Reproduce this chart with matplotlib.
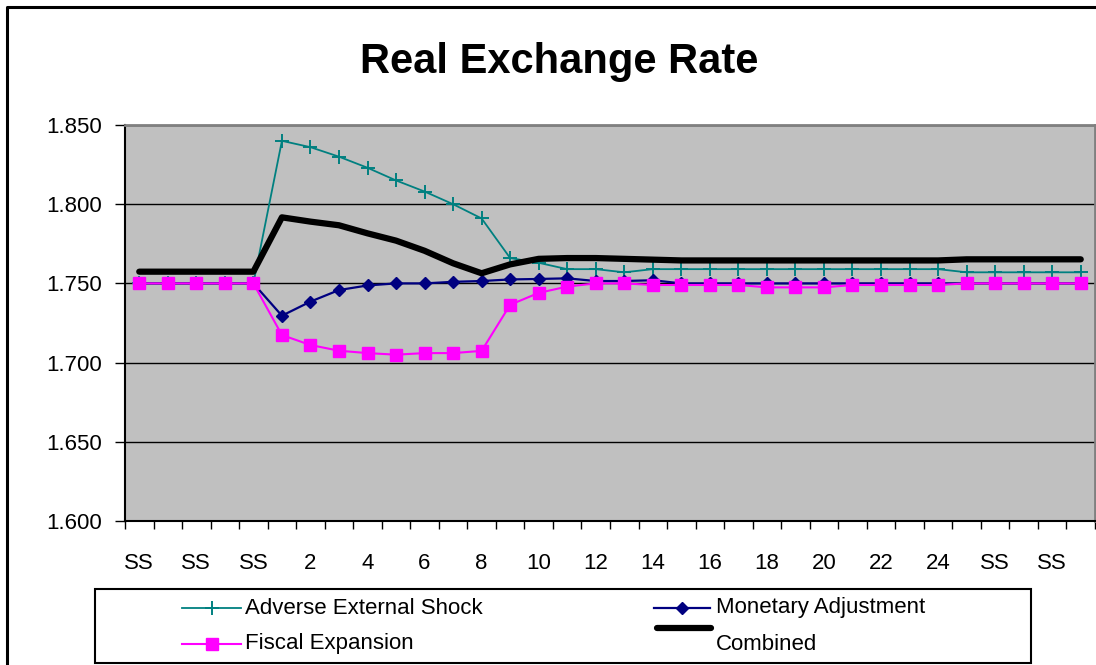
import matplotlib
matplotlib.use("Agg")
import matplotlib.pyplot as plt
from matplotlib.lines import Line2D
from matplotlib.patches import Rectangle
from matplotlib.ticker import FixedLocator, FuncFormatter

plt.rcParams['font.family'] = ['Liberation Sans', 'DejaVu Sans']

categories = ["SS"] * 5 + [str(i) for i in range(1, 25)] + ["SS"] * 5

adverse = [1.750, 1.750, 1.750, 1.750, 1.750,
           1.840, 1.836, 1.830, 1.823, 1.815, 1.808, 1.800, 1.791,
           1.766, 1.763, 1.759, 1.759, 1.757, 1.759, 1.759, 1.759, 1.759,
           1.759, 1.759, 1.759, 1.759, 1.759, 1.759, 1.759,
           1.757, 1.757, 1.757, 1.757, 1.757]

monetary = [1.750, 1.750, 1.750, 1.750, 1.750,
            1.7296, 1.7385, 1.7458, 1.7487, 1.750, 1.750, 1.751, 1.7515,
            1.7525, 1.7528, 1.7532, 1.7515, 1.7515, 1.752, 1.750, 1.750,
            1.750, 1.750, 1.750, 1.750, 1.750, 1.750, 1.750, 1.750,
            1.750, 1.750, 1.750, 1.750, 1.750]

fiscal = [1.750, 1.750, 1.750, 1.750, 1.750,
          1.7174, 1.7111, 1.7075, 1.706, 1.705, 1.706, 1.706, 1.7074,
          1.7365, 1.744, 1.748, 1.750, 1.750, 1.749, 1.749, 1.749, 1.749,
          1.7475, 1.7475, 1.7475, 1.749, 1.749, 1.749, 1.749,
          1.750, 1.750, 1.750, 1.750, 1.750]

combined = [1.7574, 1.7574, 1.7574, 1.7574, 1.7574,
            1.7917, 1.789, 1.7867, 1.7816, 1.777, 1.7706, 1.7627, 1.7564,
            1.762, 1.7655, 1.766, 1.766, 1.7655, 1.765, 1.7645, 1.7645,
            1.7645, 1.7645, 1.7645, 1.7645, 1.7645, 1.7645, 1.7645, 1.7645,
            1.7652, 1.7652, 1.7652, 1.7652, 1.7652]

series_names = ["Adverse External Shock", "Monetary Adjustment",
                "Fiscal Expansion", "Combined"]
y_ticks = [1.600, 1.650, 1.700, 1.750, 1.800, 1.850]
title = "Real Exchange Rate"

W, H = 1096, 665
fig = plt.figure(figsize=(W / 100, H / 100), dpi=100)
fig.patch.set_facecolor("white")


def fx(x):
    return x / W


def fy(y):
    return 1 - y / H


ax = fig.add_axes([fx(125), fy(521), fx(1095) - fx(125), fy(125) - fy(521)])
ax.set_facecolor("#C0C0C0")

x = list(range(len(categories)))

TEAL = "#008080"
NAVY = "#000080"
MAG = "#FF00FF"

ax.plot(x, adverse, color=TEAL, lw=1.3, marker="+", ms=10, mew=1.4, zorder=3)
ax.plot(x, monetary, color=NAVY, lw=1.6, marker="D", ms=6.5, mfc=NAVY,
        mec=NAVY, zorder=4)
ax.plot(x, fiscal, color=MAG, lw=1.5, marker="s", ms=8, mfc=MAG, mec=MAG,
        zorder=5)
ax.plot(x, combined, color="black", lw=4.5, solid_capstyle="round",
        solid_joinstyle="round", zorder=6)

ax.set_xlim(-0.5, len(categories) - 0.5)
ax.set_ylim(1.600, 1.850)

ax.set_yticks(y_ticks)
ax.yaxis.set_major_formatter(FuncFormatter(lambda v, p: f"{v:.3f}"))
ax.tick_params(axis="y", which="major", length=7.2, width=1, color="black",
               direction="out", pad=9.5, labelsize=16)
ax.yaxis.grid(True, color="black", lw=1)
ax.set_axisbelow(True)

ax.set_xticks(x[::2])
ax.set_xticklabels(categories[::2])
ax.xaxis.set_minor_locator(FixedLocator([i - 0.5 for i in range(len(categories) + 1)]))
ax.tick_params(axis="x", which="major", length=0, pad=23, labelsize=16)
ax.tick_params(axis="x", which="minor", length=5.8, width=1, color="black",
               direction="out")

for s in ["left", "bottom"]:
    ax.spines[s].set_color("black")
    ax.spines[s].set_linewidth(1.5)
for s in ["top", "right"]:
    ax.spines[s].set_color("#808080")
    ax.spines[s].set_linewidth(2)

fig.text(fx(559), fy(73), title, fontsize=30, fontweight="bold",
         ha="center", va="baseline")

# outer chart border (top and left visible)
fig.add_artist(Line2D([fx(7), fx(7), fx(W + 5)], [fy(H + 5), fy(7), fy(7)],
                      transform=fig.transFigure, color="black", lw=2.2))

# legend box
fig.add_artist(Rectangle((fx(95), fy(663)), fx(1031) - fx(95), fy(589) - fy(663),
                         transform=fig.transFigure, fill=False,
                         edgecolor="black", lw=1.5))

leg_items = [
    (182, 241, 608, 245, 608, dict(color=TEAL, lw=1.3, marker="+", ms=10, mew=1.4)),
    (654, 710, 608, 716, 608, dict(color=NAVY, lw=1.6, marker="D", ms=6.5, mfc=NAVY, mec=NAVY)),
    (182, 241, 644, 245, 644, dict(color=MAG, lw=1.5, marker="s", ms=8, mfc=MAG, mec=MAG)),
    (657, 711, 628, 716, 644, dict(color="black", lw=4.5, solid_capstyle="round")),
]
for (x0, x1, ly, tx, ty, style), name in zip(leg_items, series_names):
    xm = (x0 + x1) / 2
    st = dict(style)
    mk = st.pop("marker", None)
    ms = st.pop("ms", None)
    mew = st.pop("mew", None)
    mfc = st.pop("mfc", None)
    mec = st.pop("mec", None)
    fig.add_artist(Line2D([fx(x0), fx(x1)], [fy(ly), fy(ly)],
                          transform=fig.transFigure, **st))
    if mk is not None:
        kw = dict(marker=mk, ms=ms, color=st["color"], lw=0)
        if mew is not None:
            kw["mew"] = mew
        if mfc is not None:
            kw["mfc"] = mfc
            kw["mec"] = mec
        fig.add_artist(Line2D([fx(xm)], [fy(ly)], transform=fig.transFigure, **kw))
    fig.text(fx(tx), fy(ty), name, fontsize=16, ha="left", va="center")

fig.savefig("out.png", dpi=100)
